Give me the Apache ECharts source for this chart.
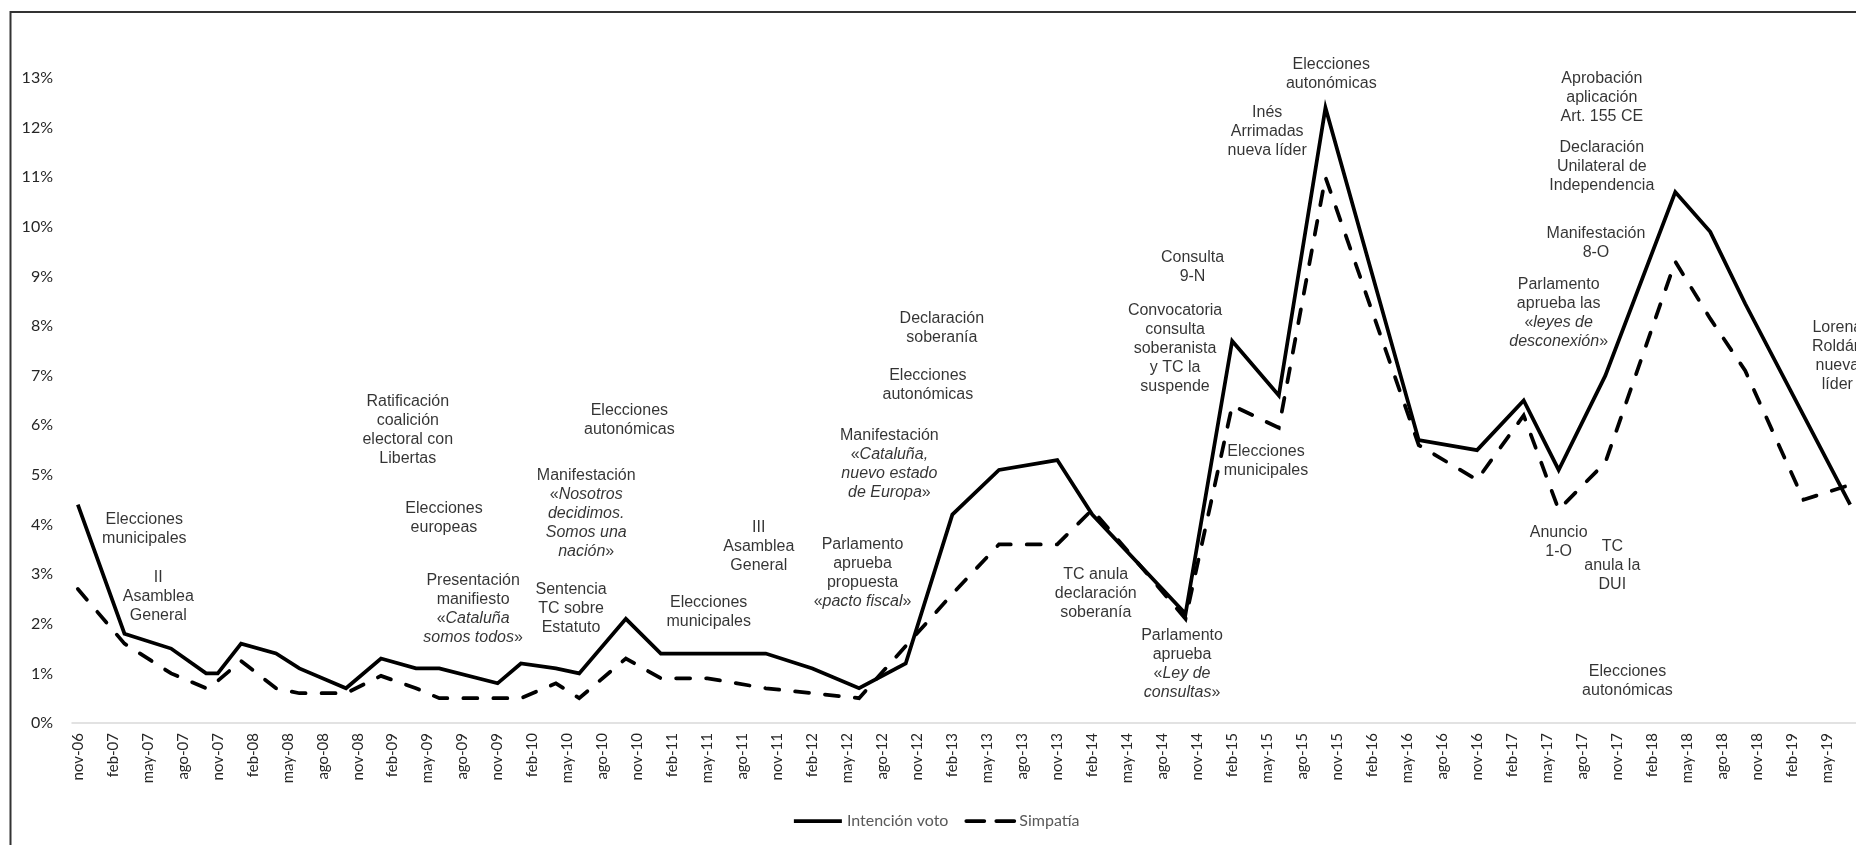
<!DOCTYPE html>
<html>
<head>
<meta charset="utf-8">
<title>Intención de voto y simpatía</title>
<script src="https://cdn.jsdelivr.net/npm/echarts@6/dist/echarts.min.js"></script>
<style>
  html, body { margin: 0; padding: 0; background: #fff; }
  #chart { width: 1856px; height: 845px; }
</style>
</head>
<body>
<div id="chart"></div>
<script>
// meses del eje: de nov-06 a jul-19, etiqueta cada 3 meses
const monthNames = ['ene', 'feb', 'mar', 'abr', 'may', 'jun', 'jul', 'ago', 'sep', 'oct', 'nov', 'dic'];
const months = [];
for (let i = 0; i < 153; i++) {
  const k = 10 + i;
  months.push(monthNames[k % 12] + '-' + String(6 + Math.floor(k / 12)).padStart(2, '0'));
}

// fechas de los barómetros
const surveyDates = ['nov-06', 'mar-07', 'jul-07', 'oct-07', 'nov-07', 'ene-08', 'abr-08', 'jun-08', 'oct-08',
  'ene-09', 'abr-09', 'jun-09', 'nov-09', 'ene-10', 'abr-10', 'jun-10', 'oct-10', 'ene-11', 'may-11', 'oct-11',
  'feb-12', 'jun-12', 'oct-12', 'feb-13', 'jun-13', 'nov-13', 'feb-14', 'oct-14', 'feb-15', 'jun-15', 'oct-15',
  'jun-16', 'nov-16', 'mar-17', 'jun-17', 'oct-17', 'abr-18', 'jul-18', 'oct-18', 'mar-19', 'jul-19'];

const intencionVoto = [4.4, 1.8, 1.5, 1.0, 1.0, 1.6, 1.4, 1.1, 0.7, 1.3, 1.1, 1.1, 0.8, 1.2, 1.1, 1.0, 2.1, 1.4, 1.4, 1.4,
  1.1, 0.7, 1.2, 4.2, 5.1, 5.3, 4.2, 2.2, 7.7, 6.6, 12.4, 5.7, 5.5, 6.5, 5.1, 7.0, 10.7, 9.9, 8.45, 6.2, 4.4];

const simpatia = [2.7, 1.6, 1.0, 0.7, 0.85, 1.25, 0.7, 0.6, 0.6, 0.95, 0.7, 0.5, 0.5, 0.5, 0.8, 0.5, 1.3, 0.9, 0.9, 0.7,
  0.6, 0.5, 1.55, 2.6, 3.6, 3.6, 4.3, 2.1, 6.4, 5.95, 11.0, 5.6, 4.9, 6.2, 4.3, 5.25, 9.3, 8.15, 7.1, 4.5, 4.8];

const yTicks = [0, 1, 2, 3, 4, 5, 6, 7, 8, 9, 10, 11, 12, 13];

// textos de los acontecimientos: [texto, posición en meses desde nov-06, altura en %]
const notas = [
  ['Elecciones\nmunicipales', 5.7, 3.9],
  ['II\nAsamblea\nGeneral', 6.9, 2.54],
  ['Ratificación\ncoalición\nelectoral con\nLibertas', 28.3, 5.9],
  ['Elecciones\neuropeas', 31.4, 4.13],
  ['Presentación\nmanifiesto\n«{i|Cataluña}\n{i|somos todos}»', 33.9, 2.29],
  ['Elecciones\nautonómicas', 47.3, 6.1],
  ['Manifestación\n«{i|Nosotros}\n{i|decidimos.}\n{i|Somos una}\n{i|nación}»', 43.6, 4.22],
  ['Sentencia\nTC sobre\nEstatuto', 42.3, 2.3],
  ['III\nAsamblea\nGeneral', 58.4, 3.55],
  ['Elecciones\nmunicipales', 54.1, 2.24],
  ['Parlamento\naprueba\npropuesta\n«{i|pacto fiscal}»', 67.3, 3.02],
  ['Declaración\nsoberanía', 74.1, 7.96],
  ['Elecciones\nautonómicas', 72.9, 6.81],
  ['Manifestación\n«{i|Cataluña,}\n{i|nuevo estado}\n{i|de Europa}»', 69.6, 5.21],
  ['TC anula\ndeclaración\nsoberanía', 87.3, 2.61],
  ['Parlamento\naprueba\n«{i|Ley de}\n{i|consultas}»', 94.7, 1.18],
  ['Consulta\n9-N', 95.6, 9.18],
  ['Convocatoria\nconsulta\nsoberanista\ny TC la\nsuspende', 94.1, 7.54],
  ['Elecciones\nmunicipales', 101.9, 5.28],
  ['Inés\nArrimadas\nnueva líder', 102.0, 11.92],
  ['Elecciones\nautonómicas', 107.5, 13.08],
  ['Aprobación\naplicación\nArt. 155 CE', 130.7, 12.6],
  ['Declaración\nUnilateral de\nIndependencia', 130.7, 11.21],
  ['Manifestación\n8-O', 130.2, 9.67],
  ['Parlamento\naprueba las\n«{i|leyes de}\n{i|desconexión}»', 127.0, 8.26],
  ['Lorena\nRoldán\nnueva\nlíder', 150.9, 7.39],
  ['Anuncio\n1-O', 127.0, 3.64],
  ['TC\nanula la\nDUI', 131.6, 3.18],
  ['Elecciones\nautonómicas', 132.9, 0.85]
];

const chart = echarts.init(document.getElementById('chart'));

const option = {
  animation: false,
  backgroundColor: '#fff',
  textStyle: { fontFamily: 'Lato' },
  graphic: [{
    type: 'rect',
    silent: true,
    shape: { x: 10.5, y: 12, width: 1900, height: 900 },
    style: { fill: 'none', stroke: '#333', lineWidth: 2 }
  }],
  grid: { left: 72, right: 0, top: 78, bottom: 122 },
  legend: {
    data: [
      { name: 'Intención voto', lineStyle: { color: '#000', width: 3.75, type: 'solid' } },
      { name: 'Simpatía', lineStyle: { color: '#000', width: 3.75, type: [18, 12] } }
    ],
    left: 787,
    top: 808,
    itemWidth: 48,
    itemHeight: 14,
    itemGap: 16,
    itemStyle: { color: 'rgba(0,0,0,0)', borderWidth: 0, opacity: 0 },
    textStyle: { fontFamily: 'Lato', fontSize: 16, color: '#595959' }
  },
  xAxis: [{
    type: 'category',
    data: months,
    boundaryGap: true,
    axisLine: { lineStyle: { color: '#d9d9d9', width: 1.5 } },
    axisTick: { show: false },
    axisLabel: {
      interval: 2,
      rotate: 90,
      margin: 10,
      color: '#262626',
      fontFamily: 'Lato',
      fontSize: 15
    }
  }, {
    type: 'value',
    show: false,
    min: -0.5,
    max: 152.5
  }],
  yAxis: {
    type: 'value',
    min: yTicks[0],
    max: yTicks[yTicks.length - 1],
    interval: 1,
    axisLine: { show: false },
    axisTick: { show: false },
    splitLine: { show: false },
    axisLabel: {
      formatter: '{value}%',
      margin: 19,
      color: '#262626',
      fontFamily: 'Lato',
      fontSize: 16
    }
  },
  series: [{
    name: 'Intención voto',
    type: 'line',
    data: surveyDates.map((d, i) => [d, intencionVoto[i]]),
    symbol: 'none',
    color: '#000',
    lineStyle: { color: '#000', width: 3.75, join: 'miter' }
  }, {
    name: 'Simpatía',
    type: 'line',
    data: surveyDates.map((d, i) => [d, simpatia[i]]),
    symbol: 'none',
    color: '#000',
    lineStyle: { color: '#000', width: 3.75, type: [14, 16], cap: 'round', join: 'miter' }
  }, {
    name: 'notas',
    type: 'scatter',
    xAxisIndex: 1,
    yAxisIndex: 0,
    data: notas.map(n => [n[1], n[2]]),
    symbolSize: 1,
    itemStyle: { color: 'rgba(0,0,0,0)' },
    clip: false,
    silent: true,
    label: {
      show: true,
      position: 'inside',
      align: 'center',
      verticalAlign: 'middle',
      formatter: p => notas[p.dataIndex][0],
      color: '#000',
      fontFamily: 'Liberation Sans',
      fontSize: 16,
      lineHeight: 19,
      rich: {
        i: { fontStyle: 'italic', fontFamily: 'Liberation Sans', fontSize: 16, lineHeight: 19, color: '#000' }
      }
    }
  }]
};

chart.setOption(option);
</script>
</body>
</html>
